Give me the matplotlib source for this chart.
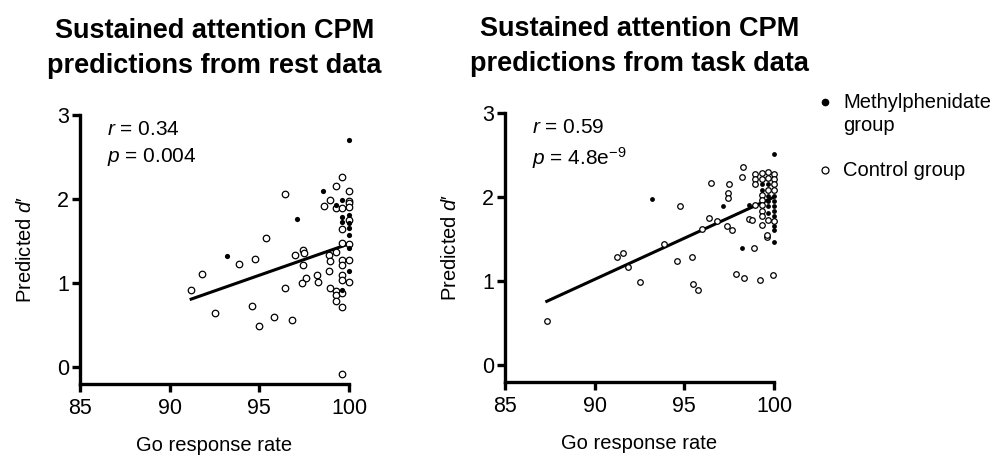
import matplotlib
matplotlib.use("Agg")
import matplotlib.pyplot as plt
from matplotlib.lines import Line2D

plt.rcParams['font.family'] = ['Liberation Sans', 'DejaVu Sans']
plt.rcParams['mathtext.fontset'] = 'custom'
plt.rcParams['mathtext.rm'] = 'Liberation Sans'
plt.rcParams['mathtext.it'] = 'Liberation Sans:italic'

# --- data: rest ---
rest_mph_x = [100.0, 98.57, 99.63, 99.28, 97.12, 93.18, 99.63, 100.0, 99.63, 100.0,
              100.0, 100.0, 100.0, 100.0, 99.63]
rest_mph_y = [2.70, 2.10, 1.99, 1.93, 1.76, 1.32, 1.79, 1.81, 1.73, 1.71,
              1.66, 1.57, 1.42, 1.15, 0.92]
rest_ctl_x = [99.63, 99.28, 96.42, 98.59, 98.94, 99.26, 95.39, 93.87, 94.76, 91.82,
              91.21, 92.55, 94.57, 94.96, 95.84, 96.84, 96.45, 97.01, 97.46, 97.47,
              97.44, 97.59, 97.37, 98.22, 98.29, 98.90, 98.94, 98.90, 99.26, 98.94,
              99.28, 99.26, 99.26, 99.63, 99.63, 99.63, 100.0, 100.0, 99.63, 100.0,
              100.0, 100.0, 99.63, 99.63, 100.0, 99.63, 100.0, 99.63, 99.63, 100.0,
              99.63]
rest_ctl_y = [2.26, 2.16, 2.06, 1.92, 1.99, 1.89, 1.54, 1.23, 1.29, 1.11,
              0.92, 0.65, 0.73, 0.49, 0.60, 0.56, 0.94, 1.33, 1.39, 1.36,
              1.21, 1.06, 1.00, 1.10, 1.01, 1.33, 1.26, 1.15, 1.37, 0.94,
              0.91, 0.86, 0.79, 0.72, 0.88, -0.08, 2.10, 1.98, 1.89, 1.95,
              1.90, 1.75, 1.64, 1.48, 1.46, 1.28, 1.27, 1.22, 1.10, 1.01,
              1.04]
rest_fit_x = [91.2, 99.9]
rest_fit_y = [0.81, 1.46]

# --- data: task ---
task_mph_x = [93.2, 100.0, 97.14, 98.63, 100.0, 98.2, 100.0, 99.32, 99.65, 99.32,
              99.65, 100.0, 100.0, 100.0, 99.65, 99.65, 100.0, 100.0, 99.65, 100.0]
task_mph_y = [1.98, 2.51, 1.89, 1.90, 1.47, 1.39, 1.61, 2.15, 2.15, 2.09,
              2.01, 2.01, 1.95, 1.89, 1.95, 1.89, 1.83, 1.77, 1.81, 1.65]
task_ctl_x = [94.76, 93.89, 91.23, 91.6, 91.86, 92.55, 94.59, 95.41, 95.47, 95.78,
              87.33, 98.29, 98.24, 97.49, 97.45, 97.45, 97.36, 97.64, 98.63, 98.94,
              99.32, 99.6, 98.89, 98.94, 98.94, 98.94, 99.32, 99.65, 100.0, 99.32,
              99.65, 100.0, 100.0, 99.65, 100.0, 99.32, 99.32, 99.32, 99.32, 99.32,
              99.65, 100.0, 98.76, 99.6, 97.9, 98.3, 99.2, 99.95, 96.5, 96.4,
              96.8, 96.0]
task_ctl_y = [1.89, 1.44, 1.29, 1.34, 1.17, 0.99, 1.24, 1.29, 0.97, 0.89,
              0.53, 2.36, 2.24, 2.16, 2.05, 1.99, 1.65, 1.61, 1.74, 1.91,
              1.67, 1.53, 1.40, 2.27, 2.21, 2.15, 2.29, 2.30, 2.27, 2.21,
              2.23, 2.21, 2.15, 2.09, 2.08, 2.03, 1.97, 1.91, 1.84, 1.77,
              1.73, 1.71, 1.73, 1.55, 1.08, 1.04, 1.01, 1.07, 2.17, 1.75,
              1.72, 1.62]
task_fit_x = [87.33, 100.0]
task_fit_y = [0.76, 2.0]

titles = ["Sustained attention CPM\npredictions from rest data",
          "Sustained attention CPM\npredictions from task data"]
stats = [r"$r$ = 0.34" + "\n" + r"$p$ = 0.004",
         r"$r$ = 0.59" + "\n" + r"$p$ = 4.8e$^{-9}$"]

fig = plt.figure(figsize=(10.06, 4.57), dpi=100)
ax1 = fig.add_axes([0.0795, 0.1597, 0.2674, 0.5886])
ax2 = fig.add_axes([0.502, 0.1641, 0.2674, 0.5886])

panels = [
    (ax1, rest_mph_x, rest_mph_y, rest_ctl_x, rest_ctl_y, rest_fit_x, rest_fit_y, 22, 14),
    (ax2, task_mph_x, task_mph_y, task_ctl_x, task_ctl_y, task_fit_x, task_fit_y, 16, 12),
]

for i, (ax, mx, my, cx, cy, fx, fy, s_open, s_fill) in enumerate(panels):
    ax.scatter(cx, cy, s=s_open, facecolors='white', edgecolors='black',
               linewidths=0.9, clip_on=False, zorder=3)
    ax.scatter(mx, my, s=s_fill, color='black', linewidths=0, clip_on=False, zorder=4)
    ax.plot(fx, fy, color='black', lw=2.2, zorder=2)

    ax.set_xlim(85, 100)
    ax.set_ylim(-0.2, 3)
    ax.set_xticks([85, 90, 95, 100])
    ax.set_yticks([0, 1, 2, 3])
    for sp in ['top', 'right']:
        ax.spines[sp].set_visible(False)
    for sp in ['left', 'bottom']:
        ax.spines[sp].set_linewidth(2.4)
    ax.tick_params(width=2.4, length=6, labelsize=15.5)
    ax.tick_params(axis='x', pad=4)
    ax.tick_params(axis='y', pad=2)
    ax.set_xlabel("Go response rate", fontsize=14.5, labelpad=12)
    ax.set_ylabel(r"Predicted $d$′", fontsize=14.5, labelpad=16)
    ax.set_title(titles[i], fontsize=19.5, fontweight='bold', pad=30, linespacing=1.45)
    ax.text(0.1, 0.98, stats[i], transform=ax.transAxes, fontsize=15,
            va='top', ha='left', linespacing=1.4)

# legend drawn by hand so the marker sits on the first line
fig.add_artist(Line2D([0.820], [0.777], marker='o', color='black', markersize=4.5,
                      linestyle='none', transform=fig.transFigure))
fig.text(0.838, 0.797, "Methylphenidate\ngroup", fontsize=14.5, va='top',
         ha='left', linespacing=1.3, transform=fig.transFigure)
fig.add_artist(Line2D([0.820], [0.628], marker='o', markerfacecolor='white',
                      markeredgecolor='black', markeredgewidth=0.9, markersize=5,
                      linestyle='none', transform=fig.transFigure))
fig.text(0.838, 0.628, "Control group", fontsize=14.5, va='center', ha='left',
         transform=fig.transFigure)

fig.savefig("out.png", dpi=100)
